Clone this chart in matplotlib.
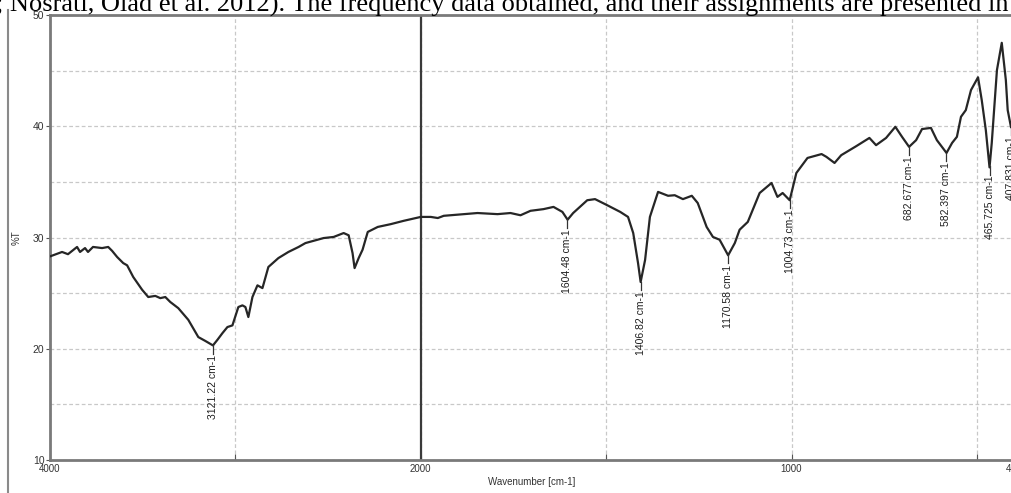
import numpy as np
import matplotlib
matplotlib.use("Agg")
import matplotlib.pyplot as plt
from matplotlib.lines import Line2D

# spectrum (wavenumber cm-1, %T)
wavenumber = [4000, 3935, 3903, 3854, 3838, 3811, 3795, 3768, 3719, 3686,
              3665, 3638, 3605, 3584, 3551, 3503, 3470, 3432, 3405, 3378,
              3351, 3308, 3254, 3200, 3162, 3121, 3097, 3070, 3043, 3016,
              2984, 2962, 2946, 2930, 2908, 2881, 2854, 2822, 2768, 2714,
              2659, 2622, 2524, 2470, 2416, 2389, 2368, 2357, 2335, 2314,
              2286, 2232, 2162, 2092, 2000, 1973, 1954, 1938, 1884, 1847,
              1793, 1758, 1731, 1704, 1669, 1642, 1618, 1604, 1589, 1551,
              1530, 1497, 1462, 1441, 1427, 1414, 1407, 1395, 1382, 1360,
              1333, 1315, 1293, 1269, 1253, 1229, 1212, 1194, 1171, 1153,
              1140, 1118, 1086, 1054, 1038, 1024, 1005, 987, 957, 919,
              906, 884, 866, 826, 790, 772, 745, 720, 702, 683,
              664, 648, 624, 608, 582, 567, 554, 543, 530, 516,
              497, 487, 476, 466, 460, 446, 433, 422, 417, 408, 400]
transmittance = [28.3, 28.7, 28.5, 29.15, 28.7, 29.05, 28.7, 29.15, 29.05, 29.15,
                 28.8, 28.25, 27.7, 27.5, 26.45, 25.3, 24.65, 24.75, 24.55, 24.65,
                 24.2, 23.65, 22.6, 21.05, 20.7, 20.3, 20.8, 21.4, 21.95, 22.1,
                 23.75, 23.9, 23.75, 22.85, 24.65, 25.7, 25.45, 27.35, 28.15, 28.7,
                 29.15, 29.5, 29.95, 30.05, 30.4, 30.2, 28.6, 27.25, 28.15, 28.9,
                 30.5, 30.95, 31.2, 31.5, 31.85, 31.85, 31.75, 31.95, 32.1, 32.2,
                 32.1, 32.2, 32.0, 32.4, 32.55, 32.75, 32.3, 31.6, 32.2, 33.35,
                 33.45, 32.9, 32.3, 31.85, 30.4, 27.7, 26.0, 27.98, 31.85, 34.1,
                 33.75, 33.8, 33.45, 33.75, 33.1, 30.95, 30.05, 29.8, 28.4, 29.5,
                 30.7, 31.4, 34.0, 34.9, 33.65, 34.0, 33.35, 35.8, 37.15, 37.5,
                 37.25, 36.7, 37.4, 38.2, 38.95, 38.3, 38.95, 39.95, 39.05, 38.15,
                 38.75, 39.75, 39.85, 38.75, 37.6, 38.5, 39.05, 40.85, 41.45, 43.25,
                 44.4, 42.35, 39.65, 36.3, 38.5, 45.05, 47.5, 44.15, 41.45, 39.9, 41.0]

peaks = [3121.22, 1604.48, 1406.82, 1170.58, 1004.73, 682.677, 582.397, 465.725, 407.831]
peak_labels = ["3121.22 cm-1", "1604.48 cm-1", "1406.82 cm-1", "1170.58 cm-1",
               "1004.73 cm-1", "682.677 cm-1", "582.397 cm-1", "465.725 cm-1",
               "407.831 cm-1"]

xtick_vals = [4000, 3000, 2000, 1500, 1000, 500, 400]
xtick_text = ["4000", "", "2000", "", "1000", "", "400"]

sans = ["Liberation Sans Narrow", "Liberation Sans", "DejaVu Sans"]


# the instrument axis is squeezed above 2000 cm-1
def fwd(w):
    w = np.asarray(w, float)
    return np.where(w >= 2000, w, 2000 - 2 * (2000 - w))


def inv(u):
    u = np.asarray(u, float)
    return np.where(u >= 2000, u, 2000 - (2000 - u) / 2)


fig = plt.figure(figsize=(10.11, 4.93), dpi=100)
W, H = 1011, 493
ax = fig.add_axes([50 / W, 1 - 460 / H, 964 / W, 445 / H])
ax.set_xscale("function", functions=(fwd, inv))
ax.set_xlim(4000, 400)
ax.set_ylim(10, 50)

ax.plot(wavenumber, transmittance, color="#262626", lw=1.6, zorder=3)

ax.set_xticks(xtick_vals)
ax.set_xticklabels(xtick_text, family=sans, fontsize=7, color="#333333")
ax.set_yticks([10, 20, 30, 40, 50])
ax.set_yticks([15, 25, 35, 45], minor=True)
ax.set_yticklabels(["10", "20", "30", "40", "50"], family=sans, fontsize=7.5, color="#333333")
ax.tick_params(axis="x", direction="in", length=4, pad=3, color="#555555")
ax.tick_params(axis="y", which="both", direction="out", length=3, pad=1, color="#555555")
ax.tick_params(axis="y", which="minor", length=0)

ax.grid(True, axis="y", which="both", ls=(0, (3, 2)), color="#c8c8c8", lw=0.9)
ax.grid(True, axis="x", ls=(0, (3, 2)), color="#c8c8c8", lw=0.9)
ax.axvline(2000, color="#3a3a3a", lw=1.6, zorder=2)

for s in ax.spines.values():
    s.set_color("#7a7a7a")
    s.set_linewidth(2)

ax.set_ylabel("%T", family=sans, fontsize=7, color="#333333", labelpad=8)
ax.set_xlabel("Wavenumber [cm-1]", family=sans, fontsize=7, color="#333333", labelpad=2)

# peak picks
for p, lab in zip(peaks, peak_labels):
    t = np.interp(p, wavenumber[::-1], transmittance[::-1])
    ax.plot([p, p], [t, t - 0.75], color="#333333", lw=0.9, zorder=4)
    ax.text(p, t - 0.85, lab, rotation=90, ha="center", va="top",
            family=sans, fontsize=7.5, color="#1e1e1e", zorder=4)

# surrounding page bits
fig.text(-0.004, 1 - 12 / H, "; Nosrati, Olad et al. 2012). The frequency data obtained, and their assignments are presented in",
         family=["Liberation Serif", "DejaVu Serif"], fontsize=19, va="baseline", ha="left")
fig.add_artist(Line2D([8 / W, 8 / W], [0, 1 - 10 / H], color="#8a8a8a", lw=1.5))

fig.savefig("out.png", dpi=100)
